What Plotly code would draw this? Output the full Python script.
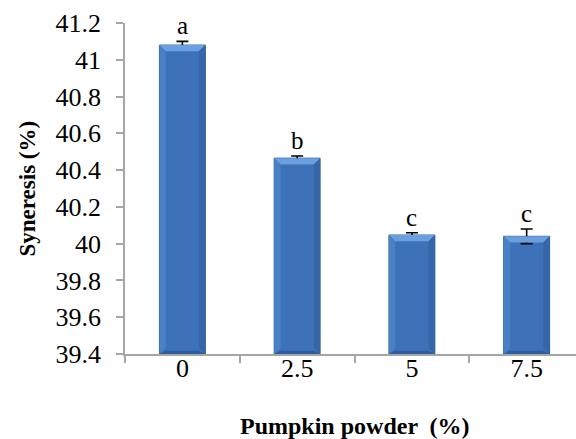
import plotly.graph_objects as go

# Syneresis of samples by pumpkin powder level
categories = ["0", "2.5", "5", "7.5"]
syneresis = [41.08, 40.465, 40.047, 40.04]
sd = [0.02, 0.012, 0.012, 0.04]
letters = ["a", "b", "c", "c"]

FONT = "Liberation Serif"
x_idx = list(range(len(categories)))
half_w = 0.2          # half of bar width, in category units
y_min, y_max = 39.4, 41.2

fig = go.Figure()
fig.add_trace(go.Bar(
    x=x_idx, y=syneresis, width=2 * half_w,
    marker=dict(color="#3d72b9", line=dict(color="#2d5a96", width=1)),
    error_y=dict(type="data", array=sd, visible=True, color="black",
                 thickness=1.6, width=6),
    showlegend=False,
))

# bevelled look on each bar: lighter top face, shaded sides and bottom
bx, by = 0.055, 0.034
shapes = []
for i, v in zip(x_idx, syneresis):
    l, r = i - half_w, i + half_w
    shapes.append(dict(type="path", xref="x", yref="y", line=dict(width=0),
                       fillcolor="#6a9fe0",
                       path=f"M {l} {v} L {r} {v} L {r-bx} {v-by} L {l+bx} {v-by} Z"))
    shapes.append(dict(type="path", xref="x", yref="y", line=dict(width=0),
                       fillcolor="#4a80c6",
                       path=f"M {l} {v} L {l+bx} {v-by} L {l+bx} {y_min+by} L {l} {y_min} Z"))
    shapes.append(dict(type="path", xref="x", yref="y", line=dict(width=0),
                       fillcolor="#3566a8",
                       path=f"M {r} {v} L {r-bx} {v-by} L {r-bx} {y_min+by} L {r} {y_min} Z"))
    shapes.append(dict(type="path", xref="x", yref="y", line=dict(width=0),
                       fillcolor="#2f5c9c",
                       path=f"M {l} {y_min} L {r} {y_min} L {r-bx} {y_min+by/2} L {l+bx} {y_min+by/2} Z"))
fig.update_layout(shapes=shapes)

for i, v, e, t in zip(x_idx, syneresis, sd, letters):
    fig.add_annotation(x=i, y=v + e, text=t, showarrow=False, xanchor="center",
                       yanchor="bottom", yshift=0,
                       font=dict(family=FONT, size=25, color="black"))

fig.update_xaxes(
    range=[-0.5, 3.43], tickvals=x_idx, ticktext=categories, ticks="",
    showline=True, linecolor="#a6a6a6", linewidth=1.5,
    tickfont=dict(family=FONT, size=26, color="black"),
    minor=dict(tickvals=[-0.5, 0.5, 1.5, 2.5], ticks="outside", ticklen=7,
               tickcolor="#a6a6a6", tickwidth=1.5),
    ticklabelstandoff=-10, showgrid=False, zeroline=False,
)
fig.update_yaxes(
    range=[y_min, y_max], dtick=0.2, tickformat="~g",
    showline=True, linecolor="#a6a6a6", linewidth=1.5,
    ticks="outside", ticklen=7, tickcolor="#a6a6a6", tickwidth=1.5,
    tickfont=dict(family=FONT, size=26, color="black"),
    ticklabelstandoff=10, showgrid=False, zeroline=False,
)
fig.add_annotation(x=0, xref="paper", y=0.5, yref="paper", xshift=-98,
                   text="<b>Syneresis (%)</b>", showarrow=False, textangle=-90,
                   xanchor="center", yanchor="middle",
                   font=dict(family=FONT, size=23, color="black"))
fig.add_annotation(x=1.5, xref="x", y=0, yref="paper", yshift=-72,
                   text="<b>Pumpkin powder  (%)</b>", showarrow=False,
                   xanchor="center", yanchor="middle",
                   font=dict(family=FONT, size=24, color="black"))

fig.update_layout(
    width=576, height=439,
    margin=dict(l=125, r=0, t=23, b=85),
    paper_bgcolor="white", plot_bgcolor="white",
    font=dict(family=FONT, color="black"),
    bargap=0.6,
)
fig.write_html("out.html")
